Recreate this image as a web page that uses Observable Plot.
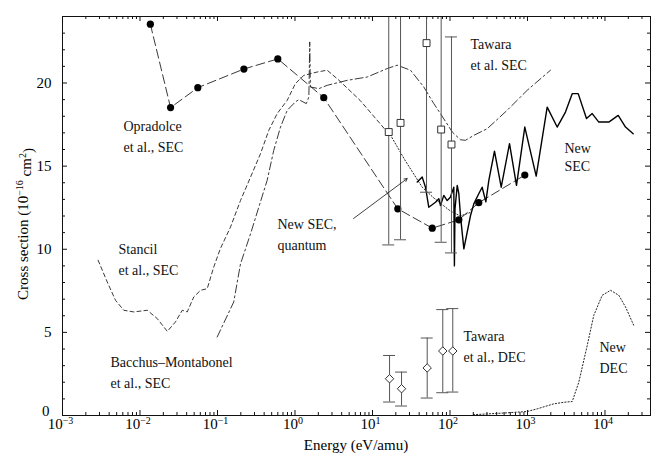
<!DOCTYPE html>
<html><head><meta charset="utf-8">
<script src="https://cdn.jsdelivr.net/npm/d3@7"></script>
<script src="https://cdn.jsdelivr.net/npm/@observablehq/plot@0.6"></script>
<style>
body{margin:0;background:#fff}
svg, svg text { font-family: "Liberation Serif", "DejaVu Serif", "Times New Roman", Times, serif !important; }
</style>
</head><body><div id="chart"></div>
<script>
// ---------------- data (energy in eV/amu, cross section in 1e-16 cm^2) ----------------
const oprE = [0.0136, 0.0248, 0.0557, 0.219, 0.6, 2.35, 21.2, 59, 130, 235, 923];
const oprV = [23.54, 18.52, 19.72, 20.84, 21.45, 19.12, 12.43, 11.27, 11.77, 12.8, 14.46];

const stE = [0.00288, 0.00378, 0.00483, 0.00618, 0.0083, 0.0124, 0.0167, 0.0225, 0.0287, 0.0351, 0.0407, 0.0494, 0.0604, 0.0737, 0.0896, 0.109, 0.147, 0.198, 0.267, 0.359, 0.459, 0.589, 0.794, 1.01, 1.3, 1.93, 2.6, 3.7, 6.9, 10.6, 15.5];
const stV = [9.34, 8.03, 6.93, 6.33, 6.23, 6.33, 5.83, 5.06, 5.63, 6.33, 6.23, 7.13, 7.53, 7.63, 8.94, 10.04, 11.33, 12.93, 14.34, 15.75, 17.15, 18.16, 18.96, 19.96, 20.46, 20.66, 20.77, 20.16, 18.96, 17.95, 17.05];

const bmE = [0.099, 0.162, 0.198, 0.267, 0.341, 0.437, 0.532, 0.65, 0.794, 1.01, 1.12, 1.40, 1.51, 1.55, 1.58, 2.03, 2.6, 4.72, 8.55, 15.5, 20.8, 30.9, 45.9, 61.8, 75.3, 107, 136, 158, 203, 302, 547, 990, 1980];
const bmV = [4.72, 6.83, 9.12, 10.93, 12.53, 14.14, 15.95, 17.35, 18.36, 18.86, 19.0, 18.76, 19.16, 22.47, 19.76, 19.66, 19.86, 20.16, 20.36, 20.87, 21.07, 20.77, 19.76, 18.76, 18.16, 17.05, 16.59, 16.55, 16.85, 17.25, 18.36, 19.56, 20.77];

const qE = [16.2, 26.7, 43.8, 61.2, 101, 136, 180];
const qV = [17.05, 15.3, 13.73, 13.1, 12.3, 12.0, 12.2];

const nsE = [37.8, 43.8, 48.3, 53.2, 65, 71.8, 75.4, 83.2, 92, 101, 112, 114, 116, 124, 130, 137, 151, 184, 203, 235, 260, 290, 317, 375, 458, 586, 721, 923, 1295, 1795, 2415, 3090, 3775, 4510, 5770, 6840, 8320, 11200, 14800, 18400, 23100];
const nsV = [14.04, 14.34, 13.73, 12.53, 12.83, 13.04, 12.63, 13.24, 12.93, 13.13, 13.73, 9.0, 12.43, 13.84, 13.34, 11.93, 10.02, 12.03, 12.73, 13.34, 13.73, 12.85, 14.14, 15.9, 13.73, 16.35, 13.84, 17.35, 14.4, 18.55, 17.35, 18.25, 19.36, 19.36, 17.86, 18.16, 17.65, 17.65, 18.05, 17.35, 16.95];

const ndE = [200, 500, 990, 1334, 2180, 3000, 3775, 4590, 5890, 7160, 9200, 11800, 15070, 18400, 23600];
const ndV = [0.05, 0.15, 0.24, 0.4, 0.7, 0.8, 0.84, 2.0, 4.2, 6.02, 7.23, 7.53, 7.23, 6.53, 5.4];

const tsE = [16.2, 23, 49.8, 76.9, 104.5];
const tsV = [17.05, 17.6, 22.4, 17.2, 16.3];
const tsLo = [10.26, 10.57, 13.43, 10.42, 9.78];
const tsHi = [24.0, 25, 25, 25, 22.77];

const tdE = [16.6, 23.7, 50.8, 80.7, 108.6];
const tdV = [2.21, 1.61, 2.86, 3.88, 3.88];
const tdLo = [0.81, 0.57, 1.05, 1.37, 1.41];
const tdHi = [3.61, 2.61, 4.66, 6.37, 6.43];

const arrowFrom = [5.7, 11.85];
const arrowTo = [28, 14.25];

const xTicks = [1e-3, 1e-2, 1e-1, 1, 10, 100, 1000, 1e4];
const yTicks = [0, 5, 10, 15, 20];

const labels = [
  {t: "Opradolce\net al., SEC", x: 0.00612, y: 17.99},
  {t: "Tawara\net al. SEC", x: 184, y: 22.93},
  {t: "New SEC,\nquantum", x: 0.594, y: 12.13},
  {t: "Stancil\net al., SEC", x: 0.00528, y: 10.64},
  {t: "Bacchus\u2013Montabonel\net al., SEC", x: 0.00416, y: 3.84},
  {t: "Tawara\net al., DEC", x: 149, y: 5.40},
  {t: "New\nDEC", x: 8490, y: 4.74}
];
const labels2 = [{t: "New\nSEC", x: 2999, y: 16.55}];

// ---------------- chart ----------------
const W = 651, H = 458, mL = 62, mR = 1, mT = 16, mB = 43;
const innerW = W - mL - mR, innerH = H - mT - mB;
const xMin = 1e-3, xMax = 38650;
const pxPerDec = innerW / Math.log10(xMax / xMin);
const capK = Math.pow(10, 6 / pxPerDec);
const font = '"Liberation Serif", "DejaVu Serif", "Times New Roman", Times, serif';

const rows = (E, V) => E.map((e, i) => ({e, v: V[i]}));
const minorX = [];
for (const d of xTicks) for (let k = 2; k <= 9; k++) if (d * k <= xMax) minorX.push(d * k);
const minorY = d3.range(1, 24).filter(v => v % 5 !== 0);

const ts = tsE.map((e, i) => ({e, v: tsV[i], lo: tsLo[i], hi: tsHi[i]}));
const td = tdE.map((e, i) => ({e, v: tdV[i], lo: tdLo[i], hi: tdHi[i]}));
const ink = "#111", barInk = "#555";

const svg = Plot.plot({
  width: W, height: H,
  marginLeft: mL, marginRight: mR, marginTop: mT, marginBottom: mB,
  style: {fontFamily: font, fontSize: "15px", background: "#fff", color: "#000"},
  x: {type: "log", domain: [xMin, xMax]},
  y: {domain: [0, 24]},
  marks: [
    // axes ticks (inward, on all four sides)
    Plot.tickX(xTicks, {x: d => d, insetTop: innerH - 5, stroke: ink}),
    Plot.tickX(minorX, {x: d => d, insetTop: innerH - 3, stroke: ink}),
    Plot.tickX(xTicks, {x: d => d, insetBottom: innerH - 5, stroke: ink}),
    Plot.tickX(minorX, {x: d => d, insetBottom: innerH - 3, stroke: ink}),
    Plot.tickY(yTicks, {y: d => d, insetRight: innerW - 5, stroke: ink}),
    Plot.tickY(minorY, {y: d => d, insetRight: innerW - 3, stroke: ink}),
    Plot.tickY(yTicks, {y: d => d, insetLeft: innerW - 5, stroke: ink}),
    Plot.tickY(minorY, {y: d => d, insetLeft: innerW - 3, stroke: ink}),
    Plot.axisX({ticks: xTicks, tickSize: 0, tickPadding: 3, label: null,
      tickFormat: d => "10^" + Math.round(Math.log10(d))}),
    Plot.axisY({ticks: yTicks, tickSize: 0, tickPadding: 11, label: null}),
    // curves
    Plot.line(rows(stE, stV), {x: "e", y: "v", stroke: "#222", strokeWidth: 0.9, strokeDasharray: "4,3"}),
    Plot.line(rows(bmE, bmV), {x: "e", y: "v", stroke: "#222", strokeWidth: 0.9, strokeDasharray: "8,3,2,3"}),
    Plot.line(rows(oprE, oprV), {x: "e", y: "v", stroke: "#222", strokeWidth: 0.9, strokeDasharray: "9,4"}),
    Plot.line(rows(qE, qV), {x: "e", y: "v", stroke: "#222", strokeWidth: 1, strokeDasharray: "1.2,2"}),
    Plot.line(rows(ndE, ndV), {x: "e", y: "v", stroke: "#222", strokeWidth: 1, strokeDasharray: "1.2,2"}),
    Plot.line(rows(nsE, nsV), {x: "e", y: "v", stroke: "#000", strokeWidth: 1.4}),
    Plot.dot(rows(oprE, oprV), {x: "e", y: "v", r: 3.6, fill: "#000"}),
    // Tawara error bars
    Plot.ruleX(ts, {x: "e", y1: "lo", y2: "hi", stroke: barInk, strokeWidth: 1, clip: true}),
    Plot.ruleY(ts, {y: "lo", x1: d => d.e / capK, x2: d => d.e * capK, stroke: barInk}),
    Plot.ruleY(ts.filter(d => d.hi <= 24), {y: "hi", x1: d => d.e / capK, x2: d => d.e * capK, stroke: barInk}),
    Plot.ruleX(td, {x: "e", y1: "lo", y2: "hi", stroke: barInk, strokeWidth: 1}),
    Plot.ruleY(td, {y: "lo", x1: d => d.e / capK, x2: d => d.e * capK, stroke: barInk}),
    Plot.ruleY(td, {y: "hi", x1: d => d.e / capK, x2: d => d.e * capK, stroke: barInk}),
    Plot.dot(ts, {x: "e", y: "v", symbol: "square", r: 3.9, fill: "#fff", stroke: "#333", strokeWidth: 1}),
    Plot.dot(td, {x: "e", y: "v", symbol: "diamond2", r: 3.8, fill: "#fff", stroke: "#333", strokeWidth: 1}),
    // pointer
    Plot.arrow([{x1: arrowFrom[0], y1: arrowFrom[1], x2: arrowTo[0], y2: arrowTo[1]}],
      {x1: "x1", y1: "y1", x2: "x2", y2: "y2", stroke: "#111", strokeWidth: 0.8, headLength: 6}),
    // annotations
    Plot.text(labels, {x: "x", y: "y", text: "t", textAnchor: "start", lineAnchor: "top", lineHeight: 1.5, fontSize: 14, fill: "#111"}),
    Plot.text(labels2, {x: "x", y: "y", text: "t", textAnchor: "start", lineAnchor: "top", lineHeight: 1.3, fontSize: 14, fill: "#111"}),
    Plot.frame({stroke: ink, strokeWidth: 1})
  ]
});

// superscript exponents in the x tick labels
d3.select(svg).selectAll('g[aria-label="x-axis tick label"] text').each(function () {
  const parts = this.textContent.split("^");
  const sel = d3.select(this);
  this.textContent = "";
  sel.attr("dx", "-2");
  sel.append("tspan").text(parts[0]);
  sel.append("tspan").attr("dy", "-0.5em").attr("font-size", "10px").text(parts[1].replace("-", "\u2212"));
});
// nudge the "0" label slightly up/left so it clears the 10^-3 label
d3.select(svg).selectAll('g[aria-label="y-axis tick label"] text')
  .filter(function () { return this.textContent === "0"; })
  .each(function () {
    const t = this.getAttribute("transform") || "";
    this.setAttribute("transform", t + " translate(-2,-4)");
  });

// axis titles
const yl = d3.select(svg).append("text")
  .attr("transform", "translate(28,224) rotate(-90)")
  .attr("text-anchor", "middle").attr("font-family", font).attr("font-size", 15).attr("fill", "#000");
yl.append("tspan").text("Cross section (10");
yl.append("tspan").attr("dy", "-0.5em").attr("font-size", 10).text("\u221216");
yl.append("tspan").attr("dy", "0.5em").text(" cm");
yl.append("tspan").attr("dy", "-0.5em").attr("font-size", 10).text("2");
yl.append("tspan").attr("dy", "0.5em").text(")");

d3.select(svg).append("text")
  .attr("x", (mL + W - mR) / 2).attr("y", 450)
  .attr("text-anchor", "middle").attr("font-family", font).attr("font-size", 15).attr("fill", "#000")
  .text("Energy (eV/amu)");

document.getElementById("chart").appendChild(svg);
</script>
</body></html>
